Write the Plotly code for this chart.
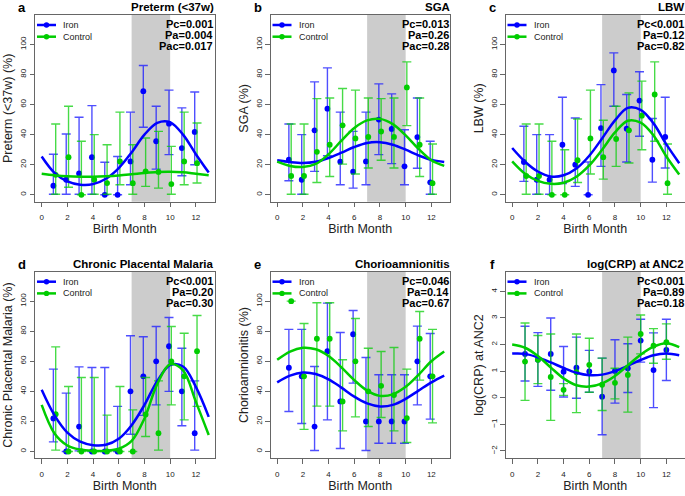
import plotly.graph_objects as go

# ---------------- data ----------------
months = list(range(1, 13))
fit_x = list(range(0, 14))
x_ticks = [0, 2, 4, 6, 8, 10, 12]
pct_ticks = [0, 20, 40, 60, 80, 100]
crp_ticks = [-2, -1, 0, 1, 2, 3, 4]
shade_start, shade_end = 7, 10

# a: Preterm
a_iron = [6, 10, 14.2, 25, 0, 0, 22.2, 68.9, 35.6, 47.3, 31.1, 41.8]
a_iron_hi = [27, 40.4, 51.6, 59.3, 21.6, 25.5, 55, 86, 58.9, 69.6, 57.8, 68.4]
a_iron_lo = [0.4, 0.4, 0.4, 0.4, 0, 0, 6.7, 44.9, 17.1, 26.7, 12.7, 20]
a_ctrl = [13.3, 25, 0, 10, 7.8, 22.2, 7.7, 15.6, 15.2, 7.1, 22.2, 21]
a_ctrl_hi = [47.1, 58.9, 35.6, 40, 33.3, 55, 33.3, 37.8, 42.2, 32.2, 55, 47.8]
a_ctrl_lo = [0.4, 5, 0, 0.4, 0.4, 6.7, 0.4, 5.6, 4.4, 0.4, 6.7, 7.8]
a_iron_fit = [25.5, 14.6, 8.9, 6.7, 7.1, 10.7, 17.8, 28.2, 40, 47.8, 48.2, 40, 27, 14.8]
a_ctrl_fit = [14, 13, 12.3, 12, 12, 12.3, 12.8, 13.6, 14.5, 15.2, 15.4, 15, 14, 13]

# b: SGA
b_iron = [23.3, 10, 42.9, 57.3, 22, 15.4, 22.2, 50, 43.8, 18.9, 38.4, 8.3]
b_iron_hi = [47.1, 40, 75.1, 84.4, 55, 42.2, 55, 73.8, 67.1, 43.3, 64.4, 35.6]
b_iron_lo = [9.3, 0.4, 15.6, 26, 6.7, 4.4, 6.7, 26.7, 20.7, 6.7, 17.7, 0.4]
b_ctrl = [12.5, 12.5, 28.6, 33.3, 46.2, 37.5, 38.5, 42.1, 38.5, 71.4, 33.3, 7.7]
b_ctrl_hi = [47.1, 47.1, 64, 64.4, 70.7, 69.6, 64.4, 64, 64.4, 88.4, 64.4, 33.8]
b_ctrl_lo = [0.4, 0.4, 8.2, 12.2, 20.4, 13.8, 17.8, 23, 17.8, 46, 12.2, 0.4]
b_iron_fit = [23, 21.8, 21.2, 22, 24.5, 28, 31.8, 34.5, 35, 33.3, 30, 26.2, 23.2, 21.8]
b_ctrl_fit = [22, 19.2, 18.5, 20.5, 27, 36, 44.5, 49.5, 50.5, 47, 39.5, 30.5, 23, 19.2]

# c: LBW
c_iron = [21.8, 10, 10, 33.3, 20, 0, 44.4, 82.7, 44, 62.7, 23.3, 38.5]
c_iron_hi = [45.6, 40, 40, 64.9, 51.1, 21.8, 73.3, 94.4, 66.7, 81.8, 50.7, 64.9]
c_iron_lo = [8.9, 0.4, 0.4, 7.5, 5.6, 0, 18.9, 58.9, 21.8, 38.9, 8.4, 17.8]
c_ctrl = [12.5, 12.5, 0, 0, 23, 37.5, 25, 37.1, 42.9, 52.6, 66.7, 7.7]
c_ctrl_hi = [47.1, 47.1, 35.6, 30, 50.4, 69.6, 49.6, 58.9, 67.8, 75.6, 88.4, 33.8]
c_ctrl_lo = [0.4, 0.4, 0, 0, 8.2, 13.8, 10.4, 18.9, 21.1, 30, 35.6, 0.4]
c_iron_fit = [31.1, 22, 15.5, 12.2, 13, 17.5, 26, 37.5, 49.5, 57.8, 56.5, 47.5, 33.5, 21]
c_ctrl_fit = [22.2, 14, 9.3, 7.3, 8, 12, 19.5, 30, 41.5, 49.3, 48, 39.5, 25.5, 13.5]

# d: Chronic placental malaria
d_iron = [22, 0, 16.6, 0, 0, 0, 40, 50, 60, 70, 40, 12.2]
d_iron_hi = [54.8, 38.8, 56.3, 55.9, 55.9, 30, 77, 76.3, 83.1, 89.1, 68.7, 47]
d_iron_lo = [6.4, 0, 0.4, 0, 0, 0, 11.5, 24, 31, 40, 17.1, 0.9]
d_ctrl = [24.8, 0, 0, 0, 0, 0, 0, 24.6, 12.2, 60, 50, 66.7]
d_ctrl_hi = [69.6, 43.2, 49.2, 49.2, 24.2, 43.2, 27.7, 49.2, 47, 83.1, 78.7, 90.5]
d_ctrl_lo = [0.9, 0, 0, 0, 0, 0, 0, 10, 0.9, 31, 21, 30]
d_iron_fit = [41, 24, 12.5, 6.5, 4.2, 4.5, 8.5, 17.5, 31, 47, 57.5, 56.5, 43, 23]
d_ctrl_fit = [31, 12, 4, 1.3, 0.5, 0.5, 1.8, 7, 22, 45, 58, 54, 33, 11]

# e: Chorioamnionitis
e_iron = [55.7, 50, 16.6, 66.7, 33.3, 78, 20, 20, 20, 20, 60, 50]
e_iron_hi = [81.2, 81.2, 56.5, 98.7, 79.2, 93.8, 62.5, 51, 51, 51, 83.4, 78.5]
e_iron_lo = [26.6, 18.6, 0.7, 21, 2, 45.5, 0.7, 5.5, 5.5, 5.5, 31, 21.5]
e_ctrl = [100, 50, 75, 75, 33.3, 60, 40, 43.7, 37.5, 22.2, 75, 50]
e_ctrl_hi = [100, 85.1, 98.9, 98.9, 61, 88.5, 68.7, 66.5, 69.2, 54.8, 93.1, 81.2]
e_ctrl_lo = [100, 14.7, 30.2, 30.2, 13.7, 23, 16.6, 22.6, 13.7, 6, 47.5, 19]
e_iron_fit = [46, 50.5, 52.5, 51.5, 48, 42.5, 36.5, 32, 30, 31, 35, 40.5, 46, 50.5]
e_ctrl_fit = [61, 66.5, 69, 68, 63.5, 56, 47.5, 40.5, 37, 38, 43, 51, 60, 66.5]

# f: log(CRP) at ANC2
f_iron = [1.65, 1.43, 1.65, 0.98, 1.13, 0.99, 0.04, 1.01, 1.11, 2.15, 1.04, 1.8]
f_iron_hi = [2.69, 2.45, 3.0, 1.93, 2.28, 1.78, 1.49, 2.18, 2.03, 2.95, 2.44, 2.95]
f_iron_lo = [0.63, 0.43, 0.28, 0.03, -0.02, 0.21, -1.39, -0.2, 0.2, 1.34, -0.37, 0.65]
f_ctrl = [1.36, 1.43, 0.78, 0.3, 0.96, 1.24, 0.49, 0.56, 0.86, 2.4, 1.96, 2.09]
f_ctrl_hi = [2.81, 2.34, 2.4, 0.53, 2.4, 2.24, 1.49, 1.11, 2.28, 3.11, 2.6, 2.78]
f_ctrl_lo = [-0.1, 0.53, -0.85, 0.09, -0.56, 0.21, -0.48, -0.04, -0.54, 1.65, 1.3, 1.45]
f_iron_fit = [1.66, 1.65, 1.52, 1.33, 1.12, 0.94, 0.85, 0.87, 1.0, 1.2, 1.42, 1.6, 1.66, 1.6]
f_ctrl_fit = [2.0, 1.88, 1.57, 1.14, 0.73, 0.47, 0.42, 0.54, 0.82, 1.22, 1.62, 1.92, 2.05, 1.9]

letters = ["a", "b", "c", "d", "e", "f"]
titles = ["Preterm (&lt;37w)", "SGA", "LBW", "Chronic Placental Malaria",
          "Chorioamnionitis", "log(CRP) at ANC2"]
ylabels = ["Preterm (&lt;37w) (%)", "SGA (%)", "LBW (%)", "Chronic Placental Malaria (%)",
           "Chorioamnionitis (%)", "log(CRP) at ANC2"]
pvals = [["Pc=0.001", "Pa=0.004", "Pac=0.017"],
         ["Pc=0.013", "Pa=0.26", "Pac=0.28"],
         ["Pc&lt;0.001", "Pa=0.12", "Pac=0.82"],
         ["Pc&lt;0.001", "Pa=0.20", "Pac=0.30"],
         ["Pc=0.046", "Pa=0.14", "Pac=0.67"],
         ["Pc&lt;0.001", "Pa=0.89", "Pac=0.18"]]
series_names = ["Iron", "Control"]

panels = [
    (a_iron, a_iron_lo, a_iron_hi, a_ctrl, a_ctrl_lo, a_ctrl_hi, a_iron_fit, a_ctrl_fit),
    (b_iron, b_iron_lo, b_iron_hi, b_ctrl, b_ctrl_lo, b_ctrl_hi, b_iron_fit, b_ctrl_fit),
    (c_iron, c_iron_lo, c_iron_hi, c_ctrl, c_ctrl_lo, c_ctrl_hi, c_iron_fit, c_ctrl_fit),
    (d_iron, d_iron_lo, d_iron_hi, d_ctrl, d_ctrl_lo, d_ctrl_hi, d_iron_fit, d_ctrl_fit),
    (e_iron, e_iron_lo, e_iron_hi, e_ctrl, e_ctrl_lo, e_ctrl_hi, e_iron_fit, e_ctrl_fit),
    (f_iron, f_iron_lo, f_iron_hi, f_ctrl, f_ctrl_lo, f_ctrl_hi, f_iron_fit, f_ctrl_fit),
]

# ---------------- style ----------------
W, H = 685, 496
FONT = "Liberation Sans, Arial, Helvetica, sans-serif"
BLUE = "#0000FF"
GREEN = "#00CD00"
BLUE_BAR = "rgba(30,30,255,0.78)"
GREEN_BAR = "rgba(0,205,0,0.72)"
SHADE = "#CCCCCC"
BOXC = "#666666"
col_left = [35, 270.5, 505.5]
row_top = [15, 271.7]
BOX_W, BOX_H = 179.5, 186.7
x_range = [-0.52, 13.45]
pct_range = [-4.6, 119.6]
crp_range = [-2.28, 4.74]
dodge = [0.09, 0.09, 0.09, 0.09, 0.09, 0.0]


def px(x):
    return x / W


def py(y):
    return 1 - y / H


fig = go.Figure()
shapes = []
annotations = []

for i, (iv, ilo, ihi, cv, clo, chi, ifit, cfit) in enumerate(panels):
    k = i + 1
    xa = "x" if k == 1 else f"x{k}"
    ya = "y" if k == 1 else f"y{k}"
    r, c = divmod(i, 3)
    L = col_left[c]
    T = row_top[r]
    R = L + BOX_W
    B = T + BOX_H

    # shaded months
    shapes.append(dict(type="rect", xref=xa, yref=f"{ya} domain", x0=shade_start, x1=shade_end,
                       y0=0, y1=1, fillcolor=SHADE, line=dict(width=0), layer="below"))

    for vals, lo, hi, col, bcol, sgn in [(iv, ilo, ihi, BLUE, BLUE_BAR, -1),
                                         (cv, clo, chi, GREEN, GREEN_BAR, 1)]:
        xs = [m + sgn * dodge[i] for m in months]
        fig.add_trace(go.Scatter(
            x=xs, y=vals, mode="markers", xaxis=xa, yaxis=ya, showlegend=False,
            marker=dict(color=col, size=5.8),
            error_y=dict(type="data", symmetric=False,
                         array=[h - v for h, v in zip(hi, vals)],
                         arrayminus=[v - l for v, l in zip(vals, lo)],
                         color=bcol, thickness=1.4, width=4.5),
        ))
    for fit, col in [(ifit, BLUE), (cfit, GREEN)]:
        fig.add_trace(go.Scatter(
            x=fit_x, y=fit, mode="lines", xaxis=xa, yaxis=ya, showlegend=False,
            line=dict(color=col, width=2.5, shape="spline", smoothing=1.0),
        ))

    xdom = [px(L), min(1.0, px(R))]
    ydom = [py(B), py(T)]
    axis_common = dict(showline=True, mirror=True, linecolor=BOXC, linewidth=1,
                       ticks="outside", ticklen=4.5, tickwidth=1, tickcolor=BOXC,
                       showgrid=False, zeroline=False,
                       tickfont=dict(family=FONT, size=8, color="#222"))
    fig.layout[("xaxis" if k == 1 else f"xaxis{k}")] = dict(
        domain=xdom, anchor=ya, range=x_range, tickvals=x_ticks, ticklabelstandoff=3,
        title=dict(text="Birth Month", font=dict(family=FONT, size=12.5, color="#222"), standoff=3),
        **axis_common)
    is_crp = (i == 5)
    fig.layout[("yaxis" if k == 1 else f"yaxis{k}")] = dict(
        domain=ydom, anchor=xa, range=crp_range if is_crp else pct_range,
        tickvals=crp_ticks if is_crp else pct_ticks, tickangle=-90,
        title=dict(text=ylabels[i], font=dict(family=FONT, size=12.5, color="#222"), standoff=3),
        **axis_common)

    # panel letter & title
    annotations.append(dict(text=f"<b>{letters[i]}</b>", xref="paper", yref="paper",
                            x=px(L - 13), y=py(T - 7), xanchor="center", yanchor="middle",
                            showarrow=False, borderpad=0,
                            font=dict(family=FONT, size=13, color="black")))
    annotations.append(dict(text=f"<b>{titles[i]}</b>", xref="paper", yref="paper",
                            x=px(min(R + 0.5, W)), y=py(T - 8), xanchor="right", yanchor="middle",
                            showarrow=False, borderpad=0,
                            font=dict(family=FONT, size=11.5, color="black")))
    # p-values
    for j, t in enumerate(pvals[i]):
        annotations.append(dict(text=f"<b>{t}</b>", xref="paper", yref="paper",
                                x=px(min(R - 0.5, W)), y=py(T + 9 + 11 * j), xanchor="right",
                                yanchor="middle", showarrow=False, borderpad=0,
                                font=dict(family=FONT, size=11, color="black")))
    # legend
    for j, (name, col) in enumerate(zip(series_names, [BLUE, GREEN])):
        yy = T + 10 + 11.7 * j
        shapes.append(dict(type="line", xref="paper", yref="paper",
                           x0=px(L + 2), x1=px(L + 21), y0=py(yy), y1=py(yy),
                           line=dict(color=col, width=2.5)))
        rr = 2.7
        cx = L + 11.5
        shapes.append(dict(type="circle", xref="paper", yref="paper",
                           x0=px(cx - rr), x1=px(cx + rr), y0=py(yy + rr), y1=py(yy - rr),
                           fillcolor=col, line=dict(color=col, width=0)))
        annotations.append(dict(text=name, xref="paper", yref="paper",
                                x=px(L + 27), y=py(yy), xanchor="left", yanchor="middle",
                                showarrow=False, borderpad=0,
                                font=dict(family=FONT, size=9, color="#222")))

fig.update_layout(width=W, height=H, margin=dict(l=0, r=0, t=0, b=0),
                  plot_bgcolor="white", paper_bgcolor="white",
                  shapes=shapes, annotations=annotations, showlegend=False,
                  font=dict(family=FONT))
fig.write_html("out.html", config={"displayModeBar": False},
               post_script="document.body.style.margin='0';document.body.style.overflow='hidden';")
